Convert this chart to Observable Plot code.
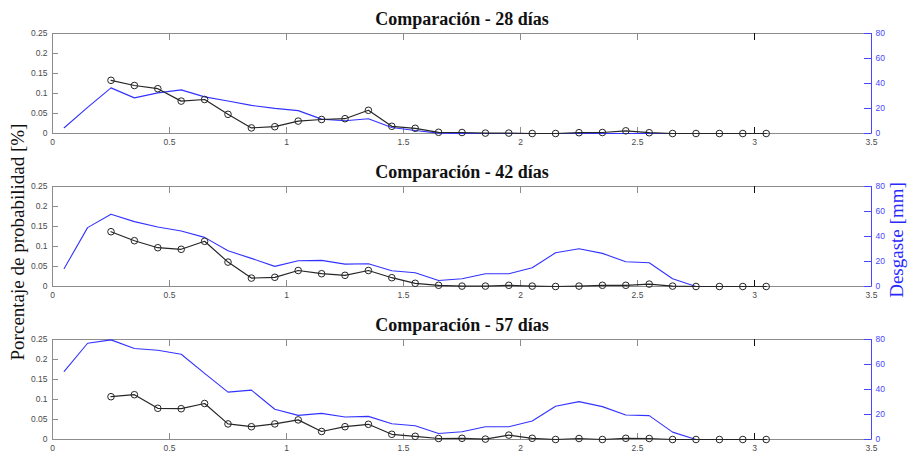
<!DOCTYPE html>
<html>
<head>
<meta charset="utf-8">
<script src="https://cdn.jsdelivr.net/npm/d3@7"></script>
<script src="https://cdn.jsdelivr.net/npm/@observablehq/plot@0.6"></script>
<style>
  html, body { margin: 0; padding: 0; background: #fff; }
  #chart { position: relative; width: 908px; height: 453px; overflow: hidden; }
  .panel { position: absolute; left: 0; }
  .vlabel {
    position: absolute;
    font-family: "Liberation Serif", "Times New Roman", serif;
    font-size: 19px;
    white-space: nowrap;
    transform: translate(-50%, -50%) rotate(-90deg);
  }
</style>
</head>
<body>
<div id="chart"></div>
<script>
// Bin centres of the wear profile (x axis)
const binsWear = [0.05, 0.15, 0.25, 0.35, 0.45, 0.55, 0.65, 0.75, 0.85, 0.95,
                  1.05, 1.15, 1.25, 1.35, 1.45, 1.55, 1.65, 1.75, 1.85, 1.95,
                  2.05, 2.15, 2.25, 2.35, 2.45, 2.55, 2.65, 2.75, 2.85, 2.95, 3.05];
// Bin centres of the probability curve
const binsProb = [0.25, 0.35, 0.45, 0.55, 0.65, 0.75, 0.85, 0.95, 1.05, 1.15,
                  1.25, 1.35, 1.45, 1.55, 1.65, 1.75, 1.85, 1.95, 2.05, 2.15,
                  2.25, 2.35, 2.45, 2.55, 2.65, 2.75, 2.85, 2.95, 3.05];

// Panel titles
const titles = ["Comparación - 28 días", "Comparación - 42 días", "Comparación - 57 días"];

// Desgaste [mm] per panel
const wear28 = [4.6, 20.9, 36.5, 28.5, 32.5, 34.9, 29.3, 26.0, 22.5, 20.1,
                18.3, 11.5, 10.2, 11.8, 4.8, 2.4, 0.3, 0, 0, 0,
                0, 0, 0, 0, 0, 0, 0, 0, 0, 0, 0];
const wear42 = [14.4, 47.1, 57.8, 51.9, 47.6, 44.4, 39.3, 28.6, 22.5, 16.1,
                20.6, 20.9, 17.9, 18.2, 12.6, 11.0, 4.8, 6.2, 10.2, 10.2,
                15.0, 27.0, 30.2, 26.5, 19.8, 19.0, 6.2, 0, 0, 0, 0];
const wear57 = [54.5, 77.0, 79.7, 72.8, 71.4, 68.2, 52.9, 37.9, 39.5, 24.2,
                19.3, 20.9, 18.0, 18.5, 12.6, 11.0, 4.8, 6.2, 10.2, 10.2,
                14.8, 26.6, 30.3, 26.3, 19.6, 19.1, 5.9, 0, 0, 0, 0];

// Porcentaje de probabilidad per panel
const prob28 = [0.133, 0.120, 0.112, 0.081, 0.085, 0.048, 0.014, 0.017, 0.031, 0.035,
                0.037, 0.058, 0.018, 0.013, 0.003, 0.0025, 0.001, 0.001, 0, 0,
                0.002, 0.0025, 0.0067, 0.002, 0, 0, 0, 0, 0];
const prob42 = [0.137, 0.1145, 0.097, 0.093, 0.113, 0.061, 0.021, 0.023, 0.040, 0.032,
                0.028, 0.040, 0.022, 0.008, 0.003, 0.001, 0.001, 0.003, 0.001, 0,
                0.001, 0.003, 0.003, 0.006, 0.001, 0, 0, 0, 0];
const prob57 = [0.107, 0.112, 0.078, 0.077, 0.090, 0.039, 0.032, 0.039, 0.049, 0.020,
                0.032, 0.038, 0.013, 0.008, 0.0025, 0.003, 0.001, 0.011, 0.003, 0,
                0.0025, 0, 0.003, 0.0025, 0, 0, 0, 0, 0];

// Axis ticks and labels
const xTicks = [0, 0.5, 1, 1.5, 2, 2.5, 3, 3.5];
const xTickLabels = ["0", "0.5", "1", "1.5", "2", "2.5", "3", "3.5"];
const yTicks = [0, 0.05, 0.1, 0.15, 0.2, 0.25];
const yTickLabels = ["0", "0.05", "0.1", "0.15", "0.2", "0.25"];
const mmTicks = [0, 20, 40, 60, 80];
const mmTickLabels = ["0", "20", "40", "60", "80"];

// Right axis (0–80 mm) shares the left axis range (0–0.25)
const MM_PER_UNIT = 80 / 0.25;

const BLUE = "#3333ff";
const BLUE_AXIS = "#4747ff";
const GRAY = "#8c8c8c";
const INK = "#262626";

const W = 908, H = 153;
const mL = 52, mR = 37, mT = 33, mB = 20;
const frameW = W - mL - mR, frameH = H - mT - mB;

const panels = [
  {title: titles[0], wear: wear28, prob: prob28, top: 0},
  {title: titles[1], wear: wear42, prob: prob42, top: 153},
  {title: titles[2], wear: wear57, prob: prob57, top: 306}
];

const chart = document.getElementById("chart");

for (const p of panels) {
  const wearRows = binsWear.map((x, i) => ({x, mm: p.wear[i]}));
  const probRows = binsProb.map((x, i) => ({x, v: p.prob[i]}));
  const mmTicksScaled = mmTicks.map(v => v / MM_PER_UNIT);

  const svg = Plot.plot({
    width: W, height: H,
    marginLeft: mL, marginRight: mR, marginTop: mT, marginBottom: mB,
    x: {domain: [0, 3.5]},
    y: {domain: [0, 0.25]},
    style: {fontFamily: "'Liberation Sans', Arial, sans-serif", fontSize: "8.5px", background: "white", overflow: "visible"},
    marks: [
      Plot.frame({stroke: GRAY}),
      // inward ticks along bottom and top edges
      Plot.ruleX(xTicks, {x: d => d, insetTop: frameH - 6, stroke: GRAY}),
      Plot.ruleX(xTicks, {x: d => d, insetBottom: frameH - 7, stroke: GRAY}),
      Plot.ruleX([3], {x: d => d, insetTop: frameH - 6, stroke: "#111"}),
      Plot.ruleX([3], {x: d => d, insetBottom: frameH - 7, stroke: "#111"}),
      // inward ticks on the left axis
      Plot.ruleY(yTicks, {y: d => d, insetRight: frameW - 6, stroke: GRAY}),
      // right axis in blue
      Plot.ruleX([3.5], {x: d => d, stroke: BLUE_AXIS}),
      Plot.ruleY(mmTicksScaled, {y: d => d, insetLeft: frameW - 7, stroke: BLUE_AXIS}),
      Plot.axisX({ticks: xTicks, tickFormat: d => xTickLabels[xTicks.indexOf(d)], tickSize: 0, tickPadding: 5, fill: "#4a4a4a", label: null}),
      Plot.axisY({ticks: yTicks, tickFormat: d => yTickLabels[yTicks.indexOf(d)], tickSize: 0, tickPadding: 5, fill: "#4a4a4a", label: null}),
      Plot.axisY({anchor: "right", ticks: mmTicksScaled,
                  tickFormat: d => mmTickLabels[mmTicks.indexOf(Math.round(d * MM_PER_UNIT))],
                  tickSize: 0, tickPadding: 4, fill: BLUE_AXIS, label: null}),
      // wear profile (right axis)
      Plot.line(wearRows, {x: "x", y: d => d.mm / MM_PER_UNIT, stroke: BLUE, strokeWidth: 1.1}),
      // probability curve with hollow circle markers (left axis)
      Plot.line(probRows, {x: "x", y: "v", stroke: INK, strokeWidth: 1.2}),
      Plot.dot(probRows, {x: "x", y: "v", r: 3.3, stroke: INK, strokeWidth: 1, fill: "none"}),
      // panel title
      Plot.text([p.title], {frameAnchor: "top", lineAnchor: "middle", dy: -14, text: d => d, fontSize: 18, fontWeight: "bold",
                            fontFamily: "'Liberation Serif', 'Times New Roman', serif", fill: "#111"})
    ]
  });
  svg.classList.add("panel");
  svg.style.top = p.top + "px";
  chart.appendChild(svg);
}

// Shared axis titles
const leftLabel = document.createElement("div");
leftLabel.className = "vlabel";
leftLabel.textContent = "Porcentaje de probabilidad [%]";
leftLabel.style.left = "18px";
leftLabel.style.top = "242px";
leftLabel.style.color = "#111";
chart.appendChild(leftLabel);

const rightLabel = document.createElement("div");
rightLabel.className = "vlabel";
rightLabel.textContent = "Desgaste [mm]";
rightLabel.style.left = "897px";
rightLabel.style.top = "240px";
rightLabel.style.color = "#2a2aff";
chart.appendChild(rightLabel);
</script>
</body>
</html>
